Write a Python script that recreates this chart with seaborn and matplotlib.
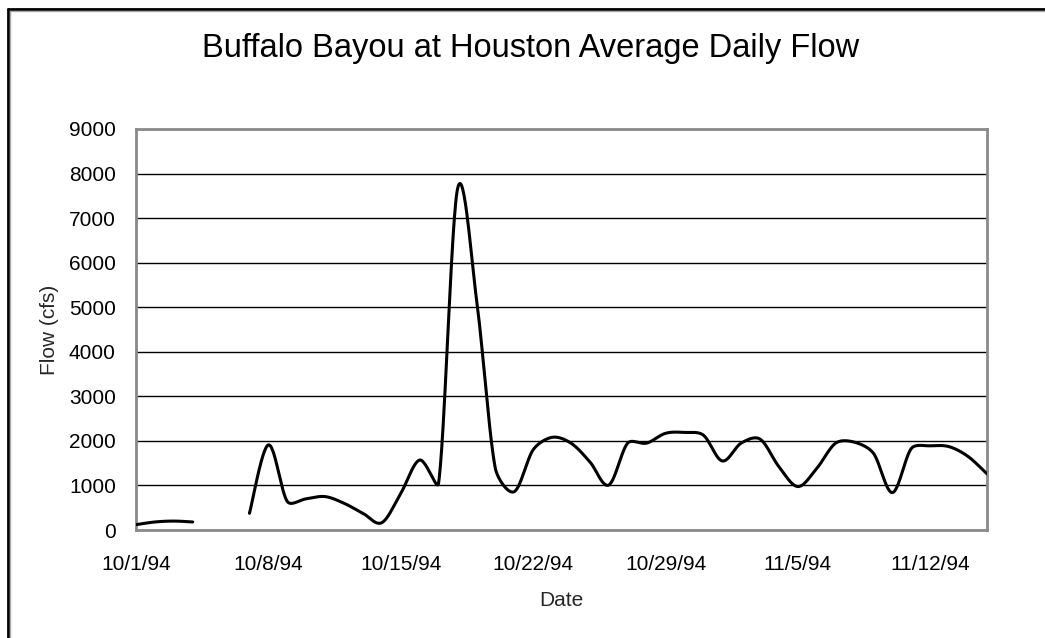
import numpy as np
import pandas as pd
import matplotlib
matplotlib.use("Agg")
import matplotlib.pyplot as plt
import matplotlib.dates as mdates
from matplotlib.lines import Line2D
import seaborn as sns

# Daily average flow, Buffalo Bayou at Houston (cfs); 10/5 and 10/6 missing
dates = pd.date_range("1994-10-01", "1994-11-15", freq="D")
flow_cfs = [
    120, 180, 200, 180, np.nan, np.nan, 375, 1910, 640, 700, 750, 600, 375, 165,
    823, 1570, 1050, 7650, 5200, 1385, 860, 1800, 2080, 1950, 1530, 1010, 1950,
    1950, 2170, 2190, 2130,
    1550, 1950, 2040, 1420, 975, 1385, 1950, 1970, 1720, 840, 1830, 1890, 1870,
    1650, 1260,
]
tick_dates = pd.date_range("1994-10-01", "1994-11-12", freq="7D")
tick_labels = ["10/1/94", "10/8/94", "10/15/94", "10/22/94", "10/29/94",
               "11/5/94", "11/12/94"]
y_ticks = list(range(0, 9001, 1000))

title = "Buffalo Bayou at Houston Average Daily Flow"
x_label = "Date"
y_label = "Flow (cfs)"

# axes box in pixels of the 1045 x 638 canvas
AX_L, AX_R, AX_T, AX_B = 136, 987, 129, 530
Y_MAX = 9000


def smooth_segment(x, y, sx, sy, steps=30, k=1.0 / 3.0):
    """Bezier smoothing through every point (Catmull-Rom tangents in screen
    space, each handle capped to a fraction of its own segment)."""
    p = np.column_stack([x * sx, y * sy])
    n = len(p)
    if n < 2:
        return np.column_stack([x, y])
    tang = np.zeros_like(p)
    for i in range(n):
        a = p[i - 1] if i > 0 else p[i]
        b = p[i + 1] if i + 1 < n else p[i]
        tang[i] = (b - a) / 6.0

    def handle(t, seg_len):
        m = np.hypot(*t)
        cap = k * seg_len
        return t * (cap / m) if m > cap and m > 0 else t

    out = []
    for i in range(n - 1):
        p1, p2 = p[i], p[i + 1]
        L = np.hypot(*(p2 - p1))
        c1 = p1 + handle(tang[i], L)
        c2 = p2 - handle(tang[i + 1], L)
        t = np.linspace(0, 1, steps, endpoint=(i == n - 2))[:, None]
        seg = ((1 - t) ** 3) * p1 + 3 * ((1 - t) ** 2) * t * c1 \
            + 3 * (1 - t) * t ** 2 * c2 + t ** 3 * p2
        out.append(seg)
    curve = np.vstack(out)
    return np.column_stack([curve[:, 0] / sx, curve[:, 1] / sy])


day_num = mdates.date2num(dates.to_pydatetime())
flow = np.asarray(flow_cfs, dtype=float)
px_per_day = (AX_R - AX_L) / (day_num[-1] - day_num[0])
px_per_cfs = (AX_B - AX_T) / Y_MAX

# split the series at missing days and smooth each run
frames = []
valid = ~np.isnan(flow)
seg_id = 0
i = 0
while i < len(flow):
    if not valid[i]:
        i += 1
        continue
    j = i
    while j < len(flow) and valid[j]:
        j += 1
    curve = smooth_segment(day_num[i:j] - day_num[0], flow[i:j],
                           px_per_day, px_per_cfs)
    frames.append(pd.DataFrame({"day": curve[:, 0] + day_num[0],
                                "flow": curve[:, 1], "run": seg_id}))
    seg_id += 1
    i = j
df = pd.concat(frames, ignore_index=True)

sns.set_style("white")
plt.rcParams["font.family"] = ["Liberation Sans", "DejaVu Sans"]

fig = plt.figure(figsize=(10.45, 6.38), dpi=100)
ax = fig.add_axes([AX_L / 1045, 1 - AX_B / 638, (AX_R - AX_L) / 1045,
                   (AX_B - AX_T) / 638])

sns.lineplot(data=df, x="day", y="flow", units="run", estimator=None,
             sort=False, color="black", linewidth=2.2, ax=ax, zorder=3)

ax.set_xlim(day_num[0], day_num[-1])
ax.set_ylim(0, Y_MAX)
ax.set_yticks(y_ticks)
ax.set_yticklabels([str(v) for v in y_ticks])
ax.set_xticks(mdates.date2num(tick_dates.to_pydatetime()))
ax.set_xticklabels(tick_labels)

ax.yaxis.grid(True, color="black", linewidth=1.0)
ax.xaxis.grid(False)
ax.set_axisbelow(True)

for side in ["left", "bottom", "top", "right"]:
    ax.spines[side].set_visible(True)
    ax.spines[side].set_color("#8a8a8a")
    ax.spines[side].set_linewidth(2.0)

ax.tick_params(axis="both", which="major", direction="out", color="#6a6a6a",
               width=1.3, labelsize=15, labelcolor="black")
ax.tick_params(axis="x", length=7, pad=11)
ax.tick_params(axis="y", length=8, pad=6.5)

ax.set_xlabel(x_label, fontsize=15, labelpad=12)
ax.set_ylabel(y_label, fontsize=15, labelpad=7)

fig.text(531 / 1045, 1 - 48 / 638, title, ha="center", va="center",
         fontsize=23.5, color="black")

# chart frame along the top and left edges
fig.add_artist(Line2D([8 / 1045, 8 / 1045], [0, 1 - 9 / 638],
                      transform=fig.transFigure, color="black", linewidth=2))
fig.add_artist(Line2D([8 / 1045, 1], [1 - 9 / 638, 1 - 9 / 638],
                      transform=fig.transFigure, color="black", linewidth=2))
fig.add_artist(Line2D([10 / 1045, 10 / 1045], [0, 1 - 11 / 638],
                      transform=fig.transFigure, color="#a8a8a8", linewidth=1))
fig.add_artist(Line2D([10 / 1045, 1], [1 - 11 / 638, 1 - 11 / 638],
                      transform=fig.transFigure, color="#a8a8a8", linewidth=1))

fig.savefig("out.png", dpi=100)
